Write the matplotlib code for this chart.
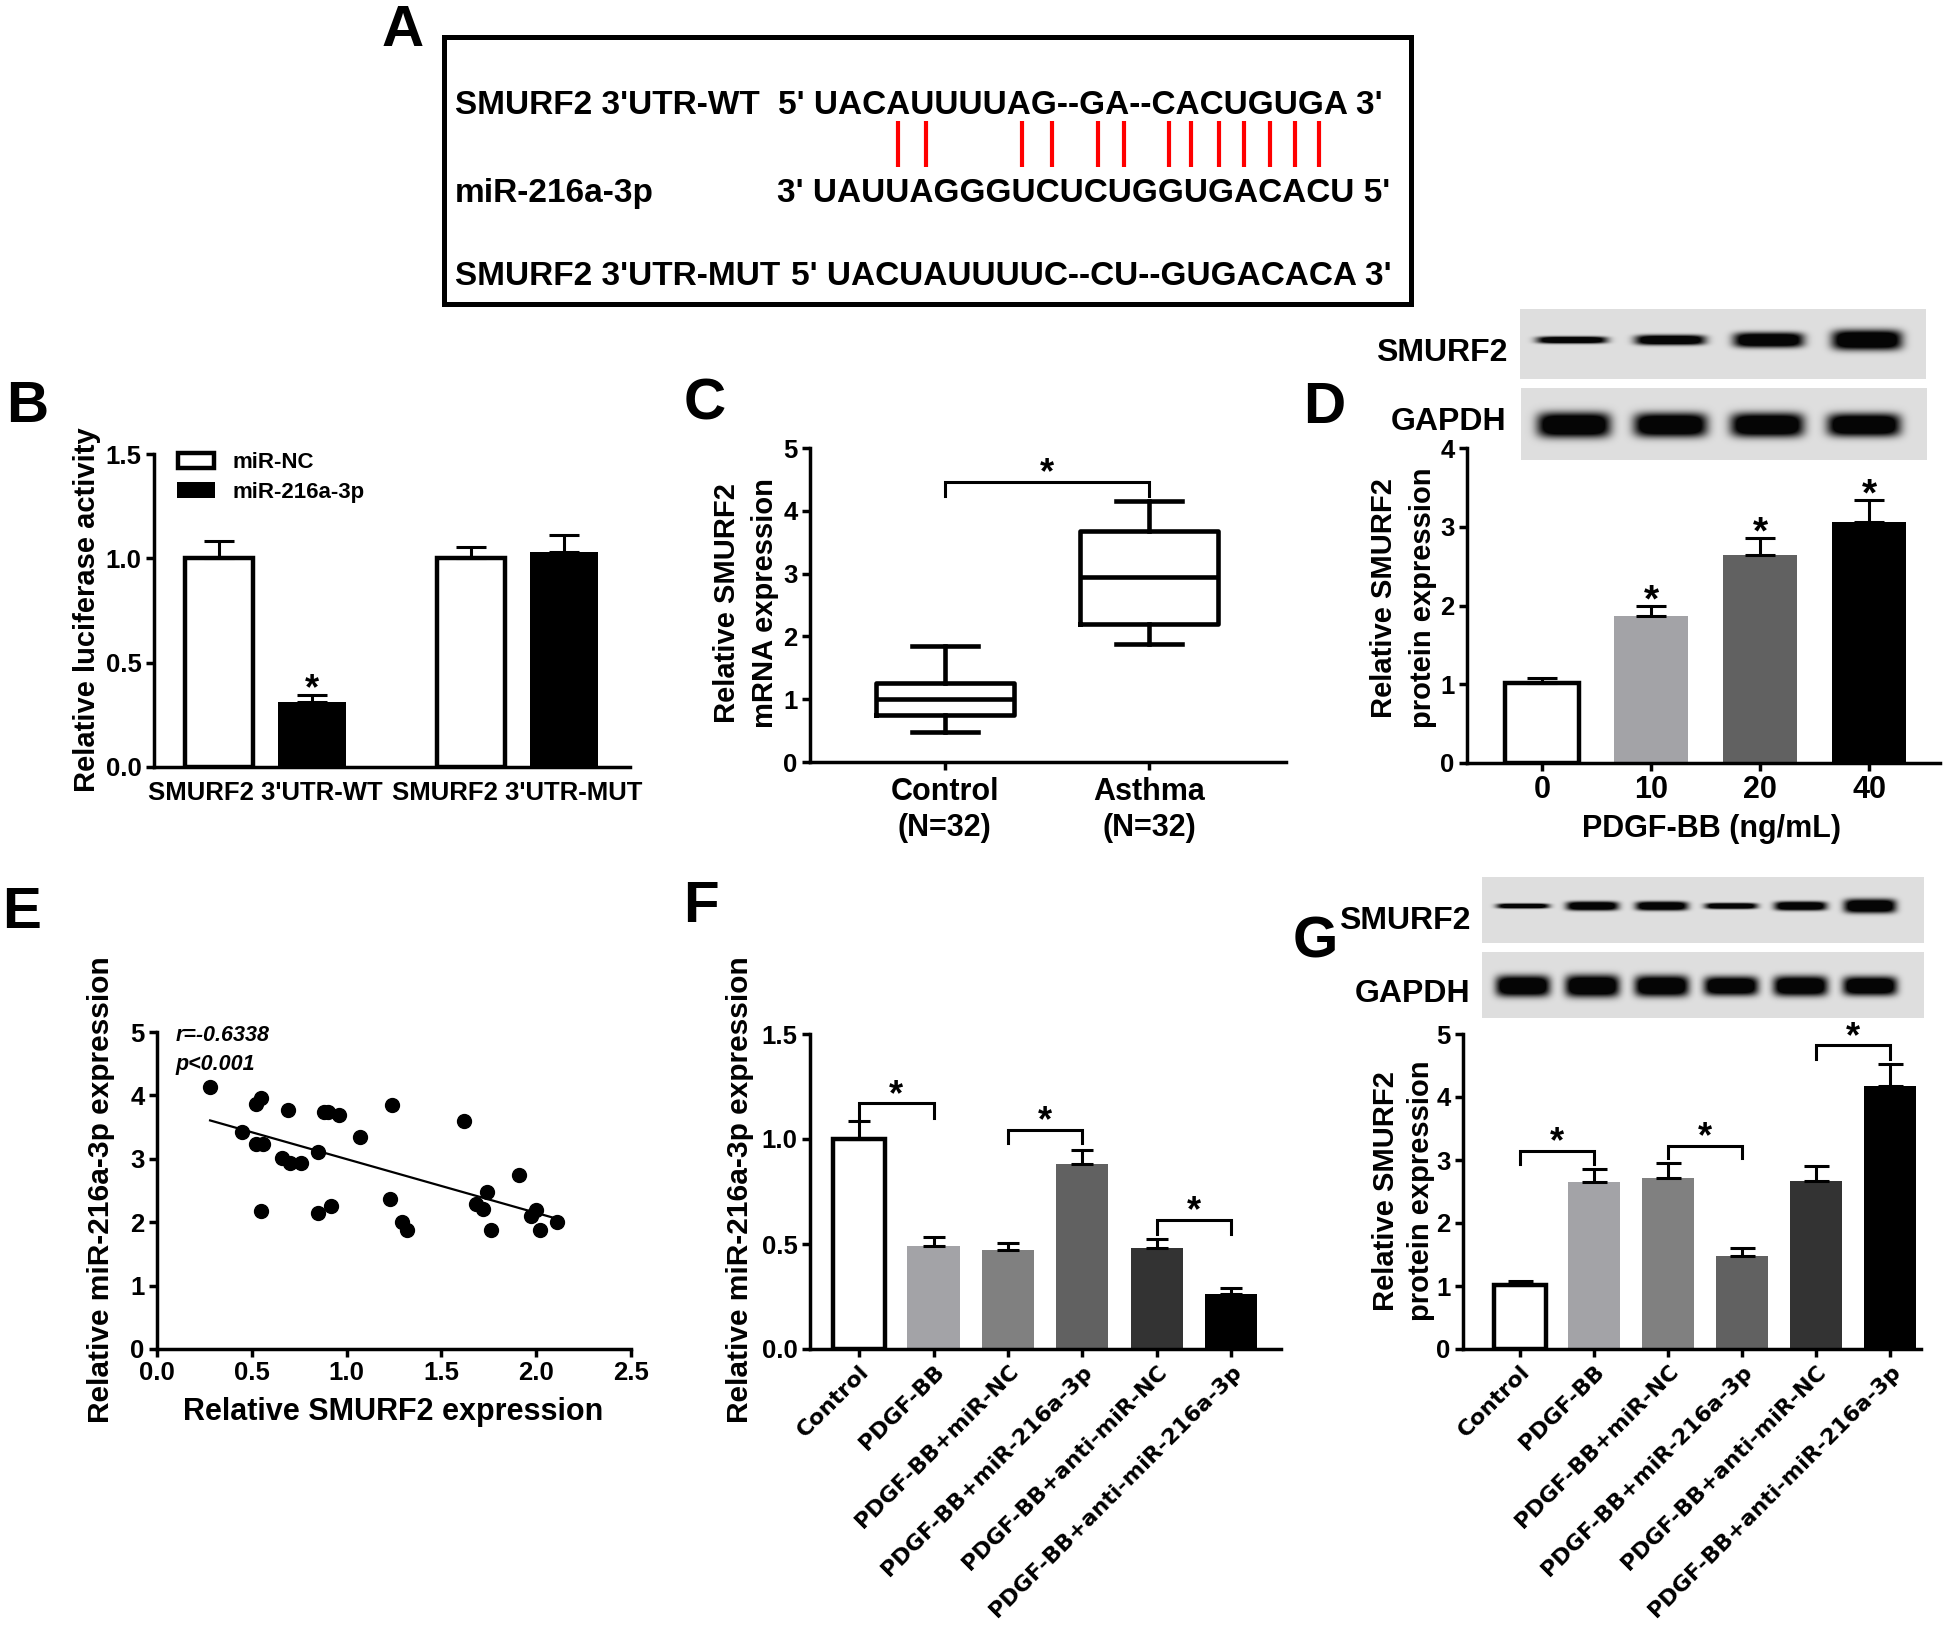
import matplotlib
matplotlib.use("Agg")
import matplotlib.pyplot as plt
import numpy as np
from matplotlib.patches import Rectangle

plt.rcParams["font.family"] = ["Liberation Sans", "DejaVu Sans"]
plt.rcParams["font.weight"] = "bold"
plt.rcParams["axes.linewidth"] = 2.5

#****************************** data

# A - sequences
seq_names = ["SMURF2 3'UTR-WT", "miR-216a-3p", "SMURF2 3'UTR-MUT"]
seq_strings = ["5' UACAUUUUAG--GA--CACUGUGA 3'",
               "3' UAUUAGGGUCUCUGGUGACACU 5'",
               "5' UACUAUUUUC--CU--GUGACACA 3'"]
pair_cols = [454, 482, 578, 608, 654, 680, 725, 747, 775, 800, 826, 851, 875]

# B - luciferase
b_groups = ["SMURF2 3'UTR-WT", "SMURF2 3'UTR-MUT"]
b_nc = [1.00, 1.00]
b_nc_err = [0.085, 0.056]
b_mir = [0.31, 1.03]
b_mir_err = [0.037, 0.08]

# C - box plot
c_groups = ["Control\n(N=32)", "Asthma\n(N=32)"]
c_whislo = [0.47, 1.88]
c_q1 = [0.75, 2.19]
c_med = [1.01, 2.95]
c_q3 = [1.26, 3.68]
c_whishi = [1.84, 4.16]

# D - PDGF-BB dose
d_doses = ["0", "10", "20", "40"]
d_vals = [1.01, 1.87, 2.64, 3.06]
d_err = [0.07, 0.13, 0.22, 0.28]
d_colors = ["white", "#a3a3a7", "#616161", "black"]
d_smurf2_bands = [7, 10, 15, 20]
d_gapdh_bands = [25, 24, 24, 23]

# E - correlation
e_smurf2 = [0.28, 0.45, 0.52, 0.55, 0.52, 0.56, 0.55, 0.66, 0.69, 0.70, 0.76,
            0.85, 0.85, 0.88, 0.90, 0.92, 0.96, 1.07, 1.23, 1.24, 1.29, 1.32,
            1.62, 1.68, 1.72, 1.74, 1.76, 1.91, 1.97, 2.00, 2.02, 2.11]
e_mir = [4.14, 3.43, 3.87, 3.96, 3.24, 3.24, 2.18, 3.02, 3.77, 2.94, 2.93,
         3.10, 2.15, 3.74, 3.74, 2.25, 3.69, 3.34, 2.37, 3.85, 2.00, 1.88,
         3.59, 2.29, 2.21, 2.48, 1.88, 2.75, 2.10, 2.20, 1.88, 2.00]

# F / G
fg_groups = ["Control", "PDGF-BB", "PDGF-BB+miR-NC", "PDGF-BB+miR-216a-3p",
             "PDGF-BB+anti-miR-NC", "PDGF-BB+anti-miR-216a-3p"]
fg_colors = ["white", "#a3a3a7", "#808080", "#616161", "#333333", "black"]
f_vals = [1.00, 0.49, 0.47, 0.88, 0.48, 0.26]
f_err = [0.085, 0.045, 0.035, 0.07, 0.045, 0.03]
f_brackets = [(0, 1, 1.17, 1.10), (2, 3, 1.045, 0.98), (4, 5, 0.614, 0.547)]
g_vals = [1.02, 2.65, 2.71, 1.48, 2.66, 4.17]
g_err = [0.065, 0.20, 0.25, 0.13, 0.25, 0.36]
g_brackets = [(0, 1, 3.15, 2.93), (2, 3, 3.23, 3.03), (4, 5, 4.82, 4.61)]
g_smurf2_bands = [5, 9, 9, 6, 9, 14]
g_gapdh_bands = [21, 22, 21, 19, 20, 19]

#****************************** helpers

W, H = 1946, 1625
fig = plt.figure(figsize=(W / 100, H / 100), dpi=100)
TICK = 18.5


def px_axes(l, t, r, b):
    return fig.add_axes([l / W, 1 - b / H, (r - l) / W, (b - t) / H])


def ftext(x, y, s, **kw):
    fig.text(x / W, 1 - y / H, s, **kw)


def style(ax, xtick_len=6):
    ax.spines["top"].set_visible(False)
    ax.spines["right"].set_visible(False)
    ax.tick_params(axis="y", direction="out", length=6, width=2.5, labelsize=TICK, pad=3)
    ax.tick_params(axis="x", direction="out", length=xtick_len, width=2.5, pad=3)


def bars(ax, x, vals, errs, colors, width, capsize):
    for xi, v, e, c in zip(x, vals, errs, colors):
        if c == "white":
            ax.bar(xi, v, width, color="white", edgecolor="black", linewidth=3.2, zorder=2)
        else:
            ax.bar(xi, v, width, color=c, edgecolor=c, linewidth=0, zorder=2)
        ax.errorbar(xi, v, yerr=[[0], [e]], fmt="none", ecolor="black",
                    elinewidth=2.2, capsize=capsize, capthick=2.2, zorder=3)


def star(ax, x, y, up=0, size=26):
    ax.annotate("*", (x, y), xytext=(0, up - 0.58 * size), textcoords="offset points",
                ha="center", va="baseline", fontsize=size, annotation_clip=False)


def bracket(ax, a, b, top, bottom):
    ax.plot([a, a, b, b], [bottom, top, top, bottom], color="black", lw=2.2,
            clip_on=False, solid_joinstyle="miter")


def blot(rect, lanes, thick, width, yc):
    l, t, r, b = rect
    ax = px_axes(l, t, r, b)
    w, h = r - l, b - t
    xx, yy = np.meshgrid(np.arange(w) + 0.5, np.arange(h) + 0.5)
    dark = np.zeros((h, w))
    for cx, th in zip(lanes, thick):
        pxv = np.exp(-np.abs((xx - cx) / (width / 2)) ** 6)
        pyv = np.exp(-np.abs((yy - yc) / (th / 2)) ** 3)
        dark = np.maximum(dark, pxv * pyv)
    img = 0.87 - 0.85 * np.clip(dark * 1.4, 0, 1)
    ax.imshow(img, cmap="gray", vmin=0, vmax=1, extent=(0, w, h, 0),
              aspect="auto", interpolation="bilinear")
    ax.set_axis_off()


#****************************** A

axA = px_axes(444, 37, 1411, 304)
axA.set_xlim(0, 967)
axA.set_ylim(267, 0)
axA.set_xticks([])
axA.set_yticks([])
for s in axA.spines.values():
    s.set_linewidth(3.6)
for name, seq, yb, sx in zip(seq_names, seq_strings, [77, 165, 248], [334, 333, 347]):
    axA.text(11, yb, name, fontsize=24, ha="left", va="baseline")
    axA.text(sx, yb, seq, fontsize=24, ha="left", va="baseline")
axA.vlines(pair_cols, 84, 130, color="#ff0000", lw=3)
ftext(382, 46, "A", fontsize=42, ha="left", va="baseline")

#****************************** B

axB = px_axes(154, 454, 630, 767)
xb = np.arange(len(b_groups))
off, wb = 0.185, 0.27
bars(axB, xb - off, b_nc, b_nc_err, ["white"] * 2, wb, 11)
bars(axB, xb + off, b_mir, b_mir_err, ["black"] * 2, wb, 11)
axB.set_xlim(-0.442, 1.446)
axB.set_ylim(0, 1.5)
style(axB, xtick_len=0)
axB.set_yticks([0, 0.5, 1.0, 1.5], ["0.0", "0.5", "1.0", "1.5"])
axB.set_xticks(xb, b_groups, fontsize=18.5)
axB.tick_params(axis="x", pad=10)
star(axB, xb[0] + off, 0.427)
fig.patches.append(Rectangle((178 / W, 1 - 468 / H), 36 / W, 15 / H, facecolor="white",
                             edgecolor="black", linewidth=3.2, transform=fig.transFigure))
fig.patches.append(Rectangle((177 / W, 1 - 498 / H), 38 / W, 16 / H, facecolor="black",
                             edgecolor="black", linewidth=0, transform=fig.transFigure))
ftext(232, 468, "miR-NC", fontsize=16, ha="left", va="baseline")
ftext(232, 498, "miR-216a-3p", fontsize=16, ha="left", va="baseline")
ftext(87, 610, "Relative luciferase activity", fontsize=21, rotation=90, ha="center", va="center")
ftext(6, 422, "B", fontsize=42, ha="left", va="baseline")

#****************************** C

axC = px_axes(810, 448, 1286, 762)
stats = [dict(med=m, q1=a, q3=b, whislo=lo, whishi=hi, fliers=[])
         for m, a, b, lo, hi in zip(c_med, c_q1, c_q3, c_whislo, c_whishi)]
lp = dict(color="black", linewidth=3.3)
axC.bxp(stats, positions=[0, 1], widths=0.675, showfliers=False, boxprops=lp,
        whiskerprops=lp, capprops=lp, medianprops=lp, capwidths=0.32)
axC.set_xlim(-0.66, 1.67)
axC.set_ylim(0, 5)
style(axC)
axC.set_yticks(range(6))
axC.set_xticks([0, 1], c_groups, fontsize=22, linespacing=1.25)
axC.tick_params(axis="x", pad=5)
bracket(axC, 0, 1, 4.46, 4.24)
star(axC, 0.5, 4.78)
ftext(727, 603, "Relative SMURF2", fontsize=21, rotation=90, ha="center", va="center")
ftext(765, 603, "mRNA expression", fontsize=21, rotation=90, ha="center", va="center")
ftext(684, 420, "C", fontsize=42, ha="left", va="baseline")

#****************************** D

axD = px_axes(1467, 448, 1940, 763)
xd = np.arange(len(d_vals))
bars(axD, xd, d_vals, d_err, d_colors, 0.68, 11)
axD.set_xlim(-0.69, 3.65)
axD.set_ylim(0, 4)
style(axD)
axD.set_yticks(range(5))
axD.set_xticks(xd, d_doses, fontsize=22)
for i in xd[1:]:
    star(axD, i, d_vals[i] + d_err[i], up=12, size=28)
ftext(1711, 829, "PDGF-BB (ng/mL)", fontsize=22, ha="center", va="center")
ftext(1384, 598, "Relative SMURF2", fontsize=21, rotation=90, ha="center", va="center")
ftext(1423, 598, "protein expression", fontsize=21, rotation=90, ha="center", va="center")
blot((1520, 309, 1926, 379), np.linspace(52, 347, 4), d_smurf2_bands, 70, 31)
blot((1521, 388, 1927, 460), np.linspace(53, 343, 4), d_gapdh_bands, 73, 37)
ftext(1507, 361, "SMURF2", fontsize=23, ha="right", va="baseline")
ftext(1506, 430, "GAPDH", fontsize=23, ha="right", va="baseline")
ftext(1303, 423, "D", fontsize=42, ha="left", va="baseline")

#****************************** E

axE = px_axes(157, 1032, 631, 1349)
axE.scatter(e_smurf2, e_mir, s=100, color="black", zorder=3)
k, c0 = np.polyfit(e_smurf2, e_mir, 1)
xl = np.array([min(e_smurf2), max(e_smurf2)])
axE.plot(xl, k * xl + c0, color="black", lw=1.6)
axE.set_xlim(0, 2.5)
axE.set_ylim(0, 5)
style(axE)
axE.set_xticks(np.arange(0, 2.51, 0.5), ["0.0", "0.5", "1.0", "1.5", "2.0", "2.5"], fontsize=TICK)
axE.set_yticks(range(6))
axE.text(0.1, 4.94, "r=-0.6338", fontsize=15.5, fontstyle="italic", ha="left", va="center")
axE.text(0.1, 4.49, "p<0.001", fontsize=15.5, fontstyle="italic", ha="left", va="center")
ftext(101, 1190, "Relative miR-216a-3p expression", fontsize=21.5, rotation=90, ha="center", va="center")
ftext(393, 1412, "Relative SMURF2 expression", fontsize=22, ha="center", va="center")
ftext(2, 928, "E", fontsize=42, ha="left", va="baseline")

#****************************** F

axF = px_axes(810, 1034, 1281, 1349)
xf = np.arange(len(f_vals))
bars(axF, xf, f_vals, f_err, fg_colors, 0.7, 8)
axF.set_xlim(-0.66, 5.67)
axF.set_ylim(0, 1.5)
style(axF)
axF.set_yticks([0, 0.5, 1.0, 1.5], ["0.0", "0.5", "1.0", "1.5"])
axF.set_xticks(xf, fg_groups, fontsize=16, rotation=45, ha="right", va="top",
               rotation_mode="anchor", family="DejaVu Sans")
for a, b, top, bot in f_brackets:
    bracket(axF, a, b, top, bot)
    star(axF, (a + b) / 2, top, up=14)
ftext(740, 1190, "Relative miR-216a-3p expression", fontsize=21.5, rotation=90, ha="center", va="center")
ftext(683, 922, "F", fontsize=42, ha="left", va="baseline")

#****************************** G

axG = px_axes(1463, 1034, 1921, 1349)
xg = np.arange(len(g_vals))
bars(axG, xg, g_vals, g_err, fg_colors, 0.7, 9)
axG.set_xlim(-0.77, 5.42)
axG.set_ylim(0, 5)
style(axG)
axG.set_yticks(range(6))
axG.set_xticks(xg, fg_groups, fontsize=16, rotation=45, ha="right", va="top",
               rotation_mode="anchor", family="DejaVu Sans")
for a, b, top, bot in g_brackets:
    bracket(axG, a, b, top, bot)
    star(axG, (a + b) / 2, top, up=14)
ftext(1386, 1191, "Relative SMURF2", fontsize=21, rotation=90, ha="center", va="center")
ftext(1421, 1191, "protein expression", fontsize=21, rotation=90, ha="center", va="center")
blot((1482, 877, 1924, 943), np.linspace(41, 388, 6), g_smurf2_bands, 52, 29)
blot((1482, 952, 1924, 1018), np.linspace(41, 388, 6), g_gapdh_bands, 54, 34)
ftext(1470, 929, "SMURF2", fontsize=23, ha="right", va="baseline")
ftext(1470, 1002, "GAPDH", fontsize=23, ha="right", va="baseline")
ftext(1293, 958, "G", fontsize=42, ha="left", va="baseline")

fig.savefig("out.png", dpi=100, facecolor="white")
